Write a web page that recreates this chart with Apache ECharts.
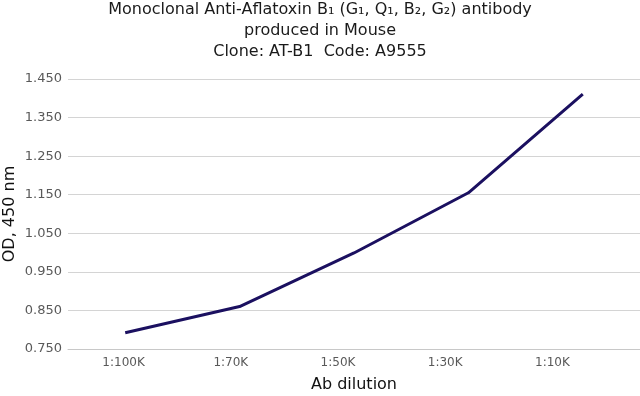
<!DOCTYPE html>
<html>
<head>
<meta charset="utf-8">
<script src="https://cdn.jsdelivr.net/npm/echarts@6/dist/echarts.min.js"></script>
<style>
  html, body { margin: 0; padding: 0; background: #fff; }
  #chart { width: 640px; height: 396px; }
</style>
</head>
<body>
<div id="chart"></div>
<script>
// data
const dilutions = ['1:100K', '1:70K', '1:50K', '1:30K', '1:10K'];
const odValues = [0.792, 0.860, 0.999, 1.155, 1.411];

const titleLines = [
  'Monoclonal Anti-Aflatoxin B\u2081 (G\u2081, Q\u2081, B\u2082, G\u2082) antibody',
  'produced in Mouse',
  'Clone: AT-B1  Code: A9555'
];

const font = '"DejaVu Sans", Verdana, sans-serif';

const chart = echarts.init(document.getElementById('chart'));

chart.setOption({
  animation: false,
  backgroundColor: '#fff',
  textStyle: { fontFamily: font },
  title: {
    text: titleLines.join('\n'),
    left: 'center',
    top: -1,
    padding: 0,
    textStyle: {
      fontFamily: font,
      fontSize: 16,
      fontWeight: 'normal',
      color: '#1a1a1a',
      lineHeight: 21
    }
  },
  // grid 0 holds the line + gridlines, grid 1 only places the category labels
  grid: [
    { left: 68, right: 0, top: 79, bottom: 47, outerBoundsMode: 'none', containLabel: false },
    { left: 70, right: 34, top: 79, bottom: 47, outerBoundsMode: 'none', containLabel: false }
  ],
  xAxis: [
    {
      type: 'category',
      gridIndex: 0,
      data: dilutions,
      boundaryGap: true,
      axisLine: { lineStyle: { color: '#c8c8c8', width: 1 } },
      axisTick: { show: false },
      axisLabel: { show: false },
      name: 'Ab dilution',
      nameLocation: 'middle',
      nameGap: 28,
      nameTextStyle: { fontFamily: font, fontSize: 16, color: '#111' }
    },
    {
      type: 'category',
      gridIndex: 1,
      data: dilutions,
      boundaryGap: true,
      axisLine: { show: false },
      axisTick: { show: false },
      axisLabel: { fontFamily: font, fontSize: 12, color: '#595959', margin: 8 }
    }
  ],
  yAxis: [
    {
      type: 'value',
      gridIndex: 0,
      min: 0.75,
      max: 1.45,
      interval: 0.1,
      axisLine: { show: false },
      axisTick: { show: false },
      axisLabel: {
        fontFamily: font,
        fontSize: 13,
        color: '#595959',
        margin: 6,
        formatter: v => v.toFixed(3)
      },
      splitLine: { lineStyle: { color: '#d4d4d4', width: 1 } },
      name: 'OD, 450 nm',
      nameLocation: 'middle',
      nameRotate: 90,
      nameGap: 50,
      nameMoveOverlap: false,
      nameTextStyle: { fontFamily: font, fontSize: 16, color: '#111' }
    },
    {
      type: 'value',
      gridIndex: 1,
      min: 0.75,
      max: 1.45,
      show: false
    }
  ],
  series: [
    {
      type: 'line',
      xAxisIndex: 0,
      yAxisIndex: 0,
      data: odValues,
      showSymbol: false,
      symbol: 'none',
      lineStyle: { color: '#1b1060', width: 3 }
    }
  ]
});
</script>
</body>
</html>
